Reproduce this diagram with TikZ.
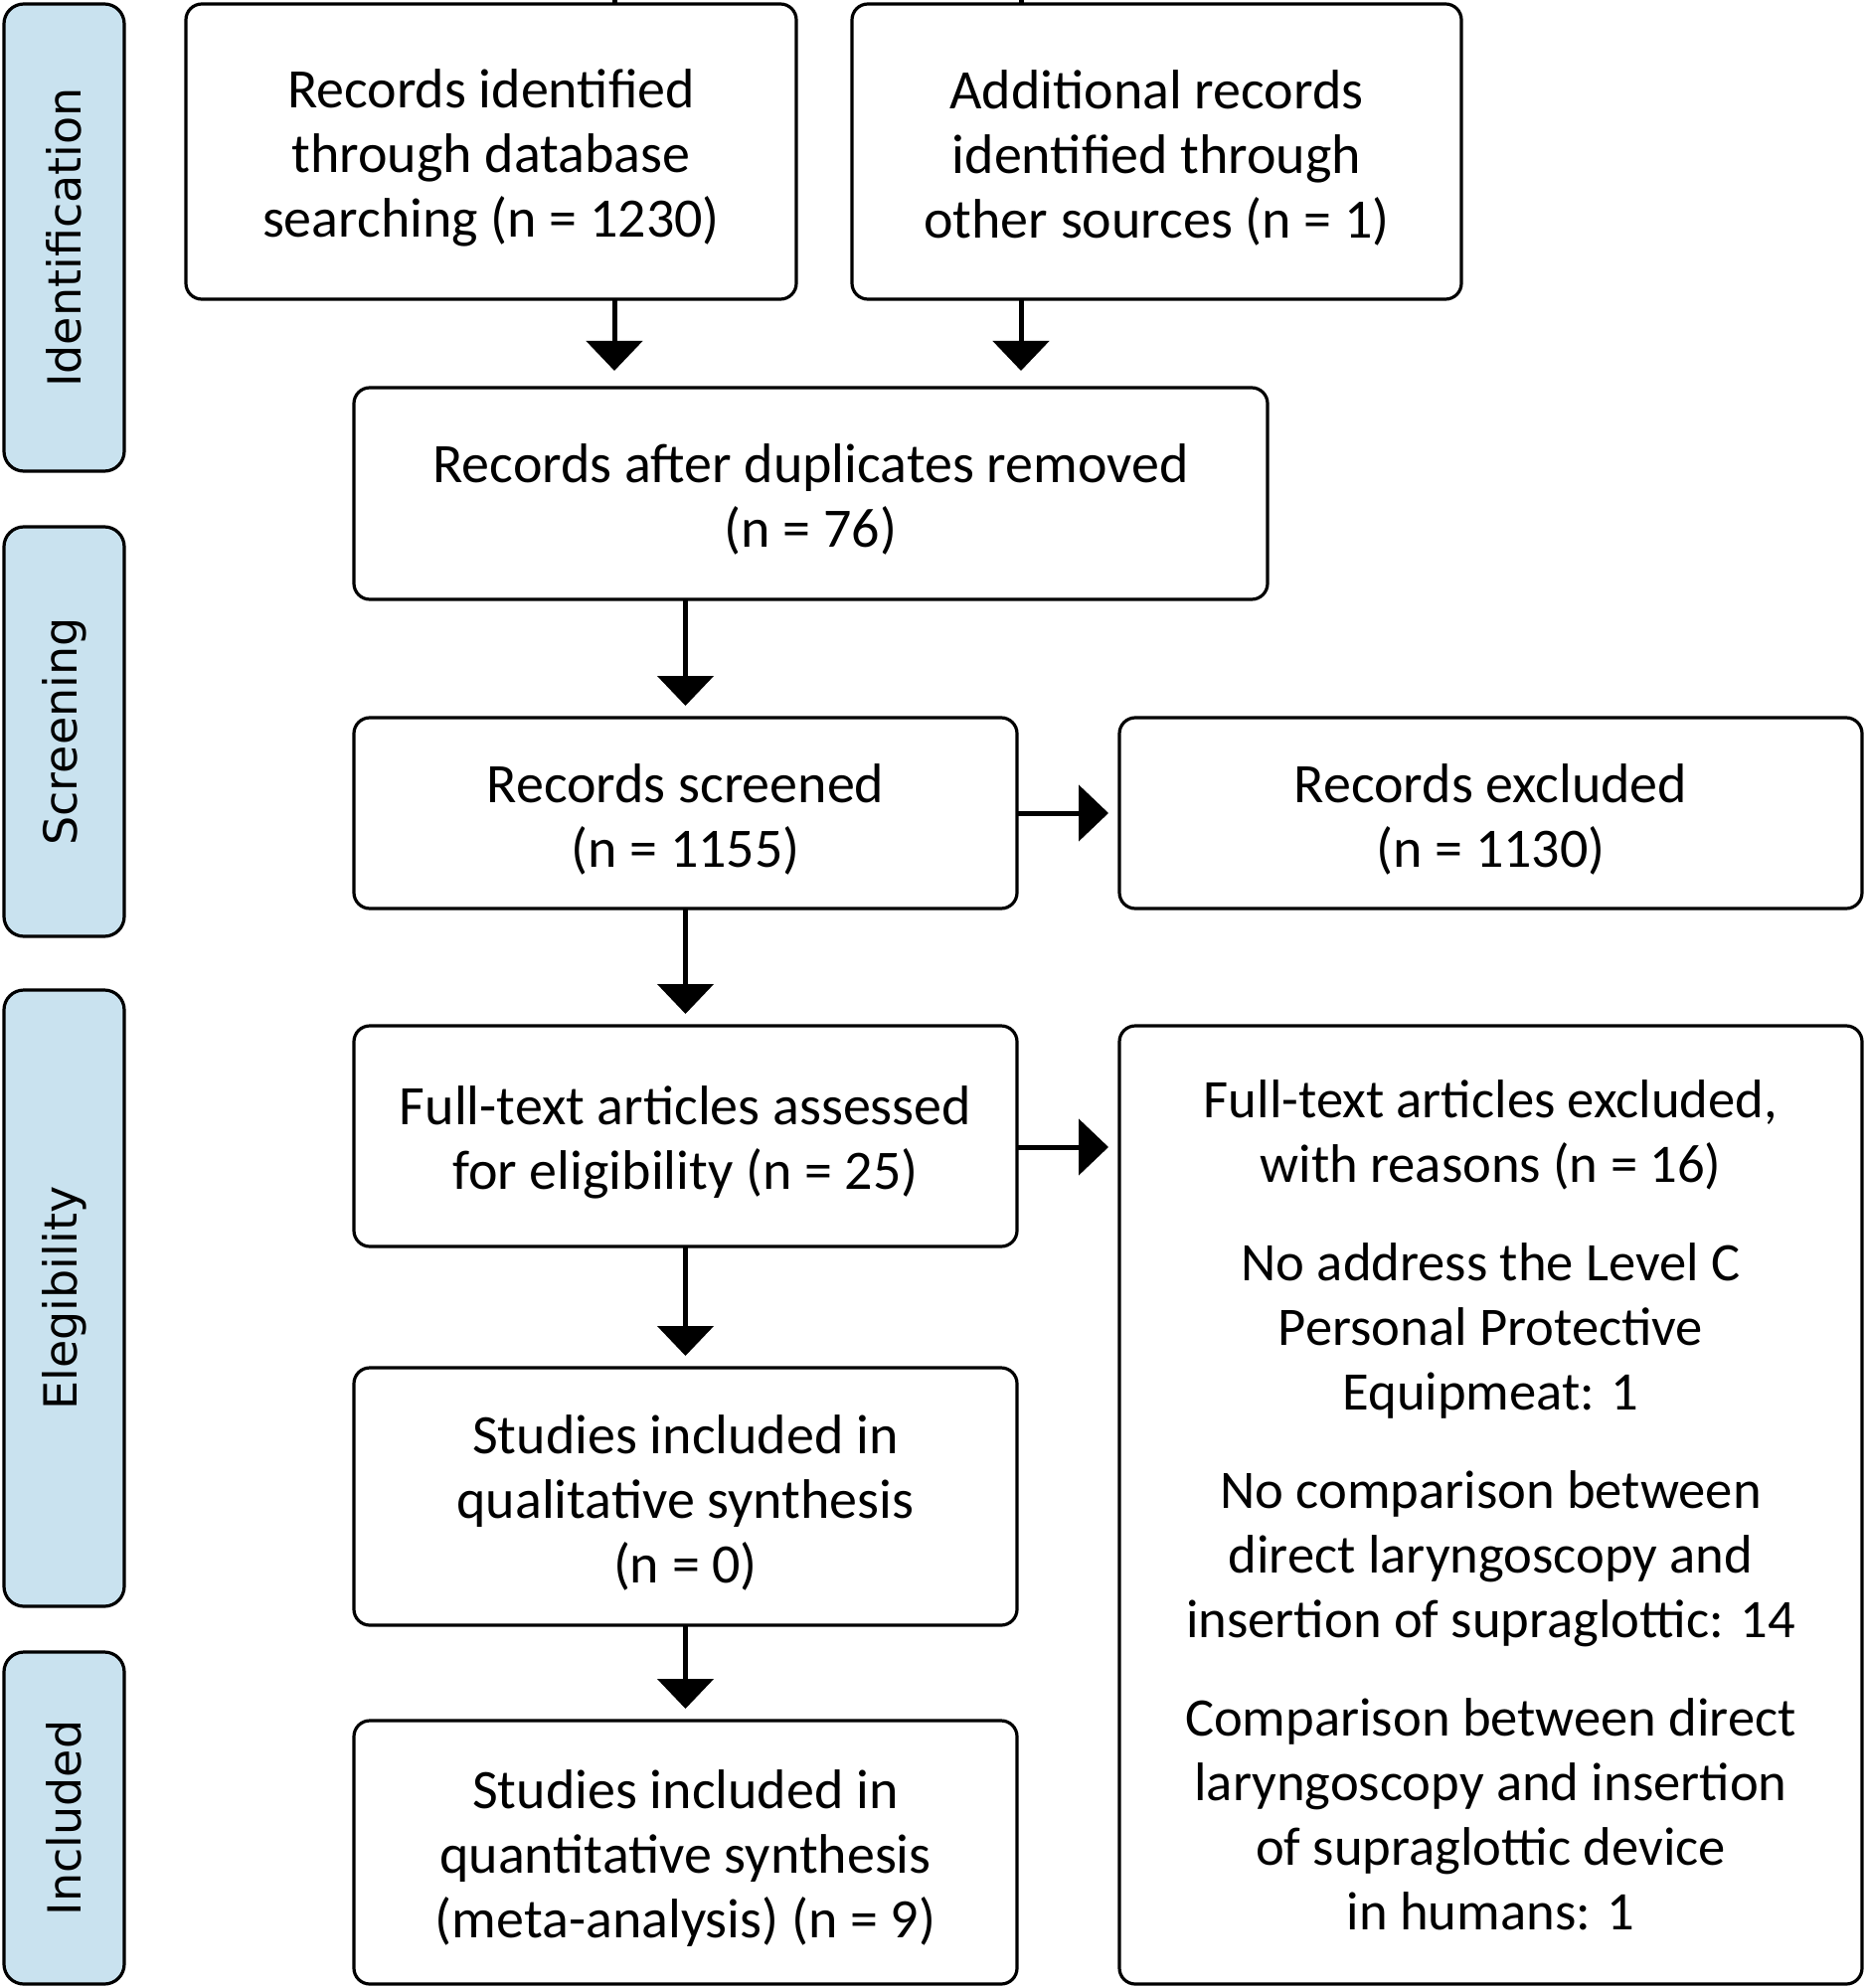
\documentclass[tikz,border=0pt]{standalone}
\usepackage{fontspec}
\setmainfont{Carlito}
\newfontfamily\sidefont{DejaVu Sans}
\usetikzlibrary{arrows.meta}
\definecolor{sideblue}{RGB}{201,226,239}
\newcommand\firstline{\rule{0pt}{25.5pt}}
\begin{document}
\begin{tikzpicture}[x=0.5pt,y=-0.5pt,
  box/.style={draw, line width=1.6pt, rounded corners=8pt, align=center, inner sep=0pt, outer sep=0pt, font=\fontsize{28}{32.5}\selectfont},
  side/.style={draw, line width=1.6pt, rounded corners=10pt, fill=sideblue, rotate=90, inner sep=0pt, outer sep=0pt, font=\sidefont\fontsize{23}{28}\selectfont, minimum height=60.5pt},
  arr/.style={line width=2.5pt, -{Triangle[length=15pt,width=28pt]}, shorten >=6pt},
  stub/.style={line width=2.5pt}]
\useasboundingbox (0,0) rectangle (1876,2000);
% sidebars
\node[side, minimum width=235pt] (s1) at (64.5,239) {Identification};
\node[side, minimum width=206pt] (s2) at (64.5,736) {Screening};
\node[side, minimum width=310pt] (s3) at (64.5,1306) {Elegibility};
\node[side, minimum width=167pt] (s4) at (64.5,1829) {Included};
% boxes
\node[box, minimum width=307pt, minimum height=148.5pt] (b1) at (494,152.5)
  {\firstline Records identified\\ through database\\ searching (n = 1230)};
\node[box, minimum width=306.5pt, minimum height=148.5pt] (b2) at (1163.5,152.5)
  {\firstline Additional records\\ identified through\\ other sources (n = 1)};
\node[box, minimum width=459.5pt, minimum height=106.5pt] (b3) at (815.5,496.5)
  {\firstline Records after duplicates removed\\ (n = 76)};
\node[box, minimum width=333.5pt, minimum height=96pt] (b4) at (689.5,818)
  {\firstline Records screened\\ (n = 1155)};
\node[box, minimum width=373.5pt, minimum height=96pt] (b5) at (1499.5,818)
  {\firstline Records excluded\\ (n = 1130)};
\node[box, minimum width=333.5pt, minimum height=111pt] (b6) at (689.5,1143)
  {\firstline Full-text articles assessed\\ for eligibility (n = 25)};
\node[box, minimum width=373.5pt, minimum height=482pt, font=\fontsize{27.3}{32.5}\selectfont] (b7) at (1499.5,1514)
  {Full-text articles excluded,\\ with reasons (n = 16)\\[17pt]
   No address the Level C\\ Personal Protective\\ Equipmeat: 1\\[17pt]
   No comparison between\\ direct laryngoscopy and\\ insertion of supraglottic: 14\\[17pt]
   Comparison between direct\\ laryngoscopy and insertion\\ of supraglottic device\\ in humans: 1};
\node[box, minimum width=333.5pt, minimum height=129.5pt] (b8) at (689.5,1505.5)
  {\firstline Studies included in\\ qualitative synthesis\\ (n = 0)};
\node[box, minimum width=333.5pt, minimum height=132.5pt] (b9) at (689.5,1863.5)
  {\firstline Studies included in\\ quantitative synthesis\\ (meta-analysis) (n = 9)};
% connectors
\coordinate (t1) at (618,-2);
\coordinate (t2) at (1027,-2);
\draw[stub] (t1) -- (t1 |- b1.north);
\draw[stub] (t2) -- (t2 |- b2.north);
\draw[arr, shorten >=8.5pt] (t1 |- b1.south) -- (t1 |- b3.north);
\draw[arr, shorten >=8.5pt] (t2 |- b2.south) -- (t2 |- b3.north);
\draw[arr] (b4.north |- b3.south) -- (b4.north);
\draw[arr] (b4.south) -- (b6.north);
\draw[arr] (b6.south) -- (b8.north);
\draw[arr] (b8.south) -- (b9.north);
\draw[arr, shorten >=5.5pt] (b4.east) -- (b5.west);
\coordinate (h6) at ([yshift=-5.5pt]b6.east);
\draw[arr, shorten >=5.5pt] (h6) -- (h6 -| b7.west);
\end{tikzpicture}
\end{document}
